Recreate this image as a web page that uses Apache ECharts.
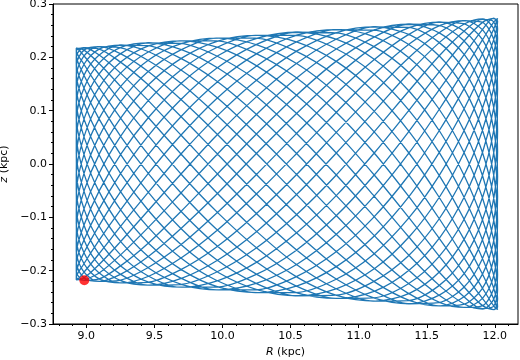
<!DOCTYPE html>
<html><head><meta charset="utf-8">
<script src="https://cdn.jsdelivr.net/npm/echarts@6/dist/echarts.min.js"></script>
<style>html,body{margin:0;padding:0;background:#fff}#c{width:520px;height:360px}</style>
</head><body><div id="c"></div>
<script>
// Orbit in the meridional plane: R (kpc), points in path order
const orbitR = [
8.985, 9.097, 9.257, 9.462, 9.703, 9.972, 10.258, 10.553, 10.844, 11.122, 11.376, 11.598, 11.779, 11.912, 11.994, 12.020, 11.990, 11.906, 11.769, 11.585, 11.362, 11.106, 10.827, 10.535, 10.240, 9.954, 9.687, 9.448, 9.246, 9.088, 8.980, 8.926, 8.928,
8.985, 9.097, 9.257, 9.462, 9.703, 9.972, 10.258, 10.553, 10.844, 11.122, 11.376, 11.598, 11.779, 11.912, 11.994, 12.020, 11.990, 11.906, 11.769, 11.585, 11.362, 11.106, 10.827, 10.535, 10.240, 9.954, 9.687, 9.448, 9.246, 9.088, 8.980, 8.926, 8.928,
8.985, 9.097, 9.257, 9.462, 9.703, 9.972, 10.258, 10.553, 10.844, 11.122, 11.376, 11.598, 11.779, 11.912, 11.994, 12.020, 11.990, 11.906, 11.769, 11.585, 11.362, 11.106, 10.827, 10.535, 10.240, 9.954, 9.687, 9.448, 9.246, 9.088, 8.980, 8.926, 8.928,
8.985, 9.097, 9.257, 9.462, 9.703, 9.972, 10.258, 10.553, 10.844, 11.122, 11.376, 11.598, 11.779, 11.912, 11.994, 12.020, 11.990, 11.906, 11.769, 11.585, 11.362, 11.106, 10.827, 10.535, 10.240, 9.954, 9.687, 9.448, 9.246, 9.088, 8.980, 8.926, 8.928,
8.985, 9.097, 9.257, 9.462, 9.703, 9.972, 10.258, 10.553, 10.844, 11.122, 11.376, 11.598, 11.779, 11.912, 11.994, 12.020, 11.990, 11.906, 11.769, 11.585, 11.362, 11.106, 10.827, 10.535, 10.240, 9.954, 9.687, 9.448, 9.246, 9.088, 8.980, 8.926, 8.928,
8.985, 9.097, 9.257, 9.462, 9.703, 9.972, 10.258, 10.553, 10.844, 11.122, 11.376, 11.598, 11.779, 11.912, 11.994, 12.020, 11.990, 11.906, 11.769, 11.585, 11.362, 11.106, 10.827, 10.535, 10.240, 9.954, 9.687, 9.448, 9.246, 9.088, 8.980, 8.926, 8.928,
8.985, 9.097, 9.257, 9.462, 9.703, 9.972, 10.258, 10.553, 10.844, 11.122, 11.376, 11.598, 11.779, 11.912, 11.994, 12.020, 11.990, 11.906, 11.769, 11.585, 11.362, 11.106, 10.827, 10.535, 10.240, 9.954, 9.687, 9.448, 9.246, 9.088, 8.980, 8.926, 8.928,
8.985, 9.097, 9.257, 9.462, 9.703, 9.972, 10.258, 10.553, 10.844, 11.122, 11.376, 11.598, 11.779, 11.912, 11.994, 12.020, 11.990, 11.906, 11.769, 11.585, 11.362, 11.106, 10.827, 10.535, 10.240, 9.954, 9.687, 9.448, 9.246, 9.088, 8.980, 8.926, 8.928,
8.985, 9.097, 9.257, 9.462, 9.703, 9.972, 10.258, 10.553, 10.844, 11.122, 11.376, 11.598, 11.779, 11.912, 11.994, 12.020, 11.990, 11.906, 11.769, 11.585, 11.362, 11.106, 10.827, 10.535, 10.240, 9.954, 9.687, 9.448, 9.246, 9.088, 8.980, 8.926, 8.928,
8.985, 9.097, 9.257, 9.462, 9.703, 9.972, 10.258, 10.553, 10.844, 11.122, 11.376, 11.598, 11.779, 11.912, 11.994, 12.020, 11.990, 11.906, 11.769, 11.585, 11.362, 11.106, 10.827, 10.535, 10.240, 9.954, 9.687, 9.448, 9.246, 9.088, 8.980, 8.926, 8.928,
8.985, 9.097, 9.257, 9.462, 9.703, 9.972, 10.258, 10.553, 10.844, 11.122, 11.376, 11.598, 11.779, 11.912, 11.994, 12.020, 11.990, 11.906, 11.769, 11.585, 11.362, 11.106, 10.827, 10.535, 10.240, 9.954, 9.687, 9.448, 9.246, 9.088, 8.980, 8.926, 8.928,
8.985, 9.097, 9.257, 9.462, 9.703, 9.972, 10.258, 10.553, 10.844, 11.122, 11.376, 11.598, 11.779, 11.912, 11.994, 12.020, 11.990, 11.906, 11.769, 11.585, 11.362, 11.106, 10.827, 10.535, 10.240, 9.954, 9.687, 9.448, 9.246, 9.088, 8.980, 8.926, 8.928,
8.985, 9.097, 9.257, 9.462, 9.703, 9.972, 10.258, 10.553, 10.844, 11.122, 11.376, 11.598, 11.779, 11.912, 11.994, 12.020, 11.990, 11.906, 11.769, 11.585, 11.362, 11.106, 10.827, 10.535, 10.240, 9.954, 9.687, 9.448, 9.246, 9.088, 8.980, 8.926, 8.928,
8.985, 9.097, 9.257, 9.462, 9.703, 9.972, 10.258, 10.553, 10.844, 11.122, 11.376, 11.598, 11.779, 11.912, 11.994, 12.020, 11.990, 11.906, 11.769, 11.585, 11.362, 11.106, 10.827, 10.535, 10.240, 9.954, 9.687, 9.448, 9.246, 9.088, 8.980, 8.926, 8.928,
8.985, 9.097, 9.257, 9.462, 9.703, 9.972, 10.258, 10.553, 10.844, 11.122, 11.376, 11.598, 11.779, 11.912, 11.994, 12.020, 11.990, 11.906, 11.769, 11.585, 11.362, 11.106, 10.827, 10.535, 10.240, 9.954, 9.687, 9.448, 9.246, 9.088, 8.980, 8.926, 8.928,
8.985, 9.097, 9.257, 9.462, 9.703, 9.972, 10.258, 10.553, 10.844, 11.122, 11.376, 11.598, 11.779, 11.912, 11.994, 12.020, 11.990, 11.906, 11.769, 11.585, 11.362, 11.106, 10.827, 10.535, 10.240, 9.954, 9.687, 9.448, 9.246, 9.088, 8.980, 8.926, 8.928,
8.985, 9.097, 9.257, 9.462, 9.703, 9.972, 10.258, 10.553, 10.844, 11.122, 11.376, 11.598, 11.779, 11.912, 11.994, 12.020, 11.990, 11.906, 11.769, 11.585, 11.362, 11.106, 10.827, 10.535, 10.240, 9.954, 9.687, 9.448, 9.246, 9.088, 8.980, 8.926, 8.928,
8.985, 9.097, 9.257, 9.462, 9.703, 9.972, 10.258, 10.553, 10.844, 11.122, 11.376, 11.598, 11.779, 11.912, 11.994, 12.020, 11.990, 11.906, 11.769, 11.585, 11.362, 11.106, 10.827, 10.535, 10.240, 9.954, 9.687, 9.448, 9.246, 9.088, 8.980, 8.926, 8.928,
8.985, 9.097, 9.257, 9.462, 9.703, 9.972, 10.258, 10.553, 10.844, 11.122, 11.376, 11.598, 11.779, 11.912, 11.994, 12.020, 11.990, 11.906, 11.769, 11.585, 11.362, 11.106, 10.827, 10.535, 10.240, 9.954, 9.687, 9.448, 9.246, 9.088, 8.980, 8.926, 8.928,
8.985, 9.097, 9.257, 9.462, 9.703, 9.972, 10.258, 10.553, 10.844, 11.122, 11.376, 11.598, 11.779, 11.912, 11.994, 12.020, 11.990, 11.906, 11.769, 11.585, 11.362, 11.106, 10.827, 10.535, 10.240, 9.954, 9.687, 9.448, 9.246, 9.088, 8.980, 8.926, 8.928,
8.985
];
// z (kpc), same order as orbitR
const orbitZ = [
-0.218, -0.204, -0.169, -0.117, -0.052, 0.021, 0.095, 0.163, 0.217, 0.252, 0.262, 0.245, 0.204, 0.140, 0.061, -0.024, -0.108, -0.179, -0.232, -0.260,
-0.262, -0.237, -0.191, -0.127, -0.054, 0.021, 0.091, 0.150, 0.192, 0.216, 0.218, 0.201, 0.164, 0.113, 0.049, -0.020, -0.089, -0.153, -0.204, -0.236,
-0.247, -0.233, -0.195, -0.135, -0.060, 0.024, 0.107, 0.180, 0.236, 0.267, 0.271, 0.248, 0.201, 0.135, 0.058, -0.023, -0.097, -0.159, -0.203, -0.226,
-0.227, -0.206, -0.167, -0.113, -0.049, 0.019, 0.086, 0.145, 0.192, 0.222, 0.231, 0.218, 0.183, 0.127, 0.057, -0.023, -0.103, -0.175, -0.232, -0.266,
-0.273, -0.253, -0.207, -0.140, -0.060, 0.024, 0.103, 0.170, 0.217, 0.241, 0.241, 0.218, 0.175, 0.117, 0.050, -0.020, -0.086, -0.143, -0.187, -0.214,
-0.220, -0.206, -0.172, -0.119, -0.053, 0.022, 0.097, 0.166, 0.222, 0.256, 0.266, 0.248, 0.205, 0.141, 0.061, -0.024, -0.107, -0.178, -0.229, -0.256,
-0.257, -0.233, -0.187, -0.124, -0.053, 0.021, 0.089, 0.147, 0.190, 0.214, 0.217, 0.201, 0.165, 0.114, 0.050, -0.020, -0.091, -0.156, -0.208, -0.242,
-0.252, -0.238, -0.198, -0.137, -0.060, 0.024, 0.108, 0.181, 0.235, 0.266, 0.269, 0.245, 0.198, 0.132, 0.057, -0.022, -0.095, -0.156, -0.199, -0.222,
-0.223, -0.203, -0.165, -0.112, -0.049, 0.020, 0.087, 0.147, 0.196, 0.226, 0.236, 0.223, 0.187, 0.130, 0.058, -0.023, -0.105, -0.178, -0.234, -0.267,
-0.273, -0.252, -0.205, -0.139, -0.060, 0.023, 0.101, 0.166, 0.212, 0.236, 0.236, 0.213, 0.172, 0.115, 0.049, -0.020, -0.086, -0.143, -0.188, -0.216,
-0.223, -0.210, -0.175, -0.122, -0.054, 0.022, 0.099, 0.170, 0.226, 0.260, 0.269, 0.251, 0.207, 0.141, 0.061, -0.024, -0.106, -0.175, -0.225, -0.251,
-0.252, -0.228, -0.182, -0.122, -0.052, 0.020, 0.088, 0.145, 0.188, 0.213, 0.217, 0.202, 0.167, 0.115, 0.051, -0.021, -0.093, -0.159, -0.213, -0.247,
-0.257, -0.242, -0.201, -0.139, -0.061, 0.024, 0.108, 0.180, 0.234, 0.263, 0.266, 0.242, 0.194, 0.130, 0.055, -0.022, -0.093, -0.153, -0.195, -0.218,
-0.220, -0.202, -0.164, -0.112, -0.049, 0.020, 0.088, 0.150, 0.199, 0.231, 0.241, 0.228, 0.191, 0.133, 0.059, -0.024, -0.106, -0.179, -0.235, -0.268,
-0.273, -0.251, -0.203, -0.137, -0.059, 0.023, 0.099, 0.163, 0.208, 0.231, 0.231, 0.209, 0.169, 0.114, 0.049, -0.019, -0.086, -0.144, -0.190, -0.219,
-0.227, -0.214, -0.179, -0.125, -0.055, 0.023, 0.101, 0.173, 0.229, 0.263, 0.272, 0.252, 0.207, 0.141, 0.061, -0.024, -0.105, -0.173, -0.221, -0.246,
-0.247, -0.223, -0.179, -0.119, -0.051, 0.020, 0.087, 0.144, 0.187, 0.213, 0.218, 0.204, 0.169, 0.117, 0.052, -0.021, -0.095, -0.163, -0.217, -0.252,
-0.262, -0.245, -0.204, -0.140, -0.061, 0.024, 0.108, 0.179, 0.232, 0.260,
0.262, 0.237, 0.191, 0.127, 0.054, -0.021, -0.091, -0.150, -0.192, -0.216, -0.218, -0.201, -0.164, -0.113, -0.049, 0.020, 0.089, 0.153, 0.204, 0.236,
0.247, 0.233, 0.195, 0.135, 0.060, -0.024, -0.107, -0.180, -0.236, -0.267, -0.271, -0.248, -0.201, -0.135, -0.058, 0.023, 0.097, 0.159, 0.203, 0.226,
0.227, 0.206, 0.167, 0.113, 0.049, -0.019, -0.086, -0.145, -0.192, -0.222, -0.231, -0.218, -0.183, -0.127, -0.057, 0.023, 0.103, 0.175, 0.232, 0.266,
0.273, 0.253, 0.207, 0.140, 0.060, -0.024, -0.103, -0.170, -0.217, -0.241, -0.241, -0.218, -0.175, -0.117, -0.050, 0.020, 0.086, 0.143, 0.187, 0.214,
0.220, 0.206, 0.172, 0.119, 0.053, -0.022, -0.097, -0.166, -0.222, -0.256, -0.266, -0.248, -0.205, -0.141, -0.061, 0.024, 0.107, 0.178, 0.229, 0.256,
0.257, 0.233, 0.187, 0.124, 0.053, -0.021, -0.089, -0.147, -0.190, -0.214, -0.217, -0.201, -0.165, -0.114, -0.050, 0.020, 0.091, 0.156, 0.208, 0.242,
0.252, 0.238, 0.198, 0.137, 0.060, -0.024, -0.108, -0.181, -0.235, -0.266, -0.269, -0.245, -0.198, -0.132, -0.057, 0.022, 0.095, 0.156, 0.199, 0.222,
0.223, 0.203, 0.165, 0.112, 0.049, -0.020, -0.087, -0.147, -0.196, -0.226, -0.236, -0.223, -0.187, -0.130, -0.058, 0.023, 0.105, 0.178, 0.234, 0.267,
0.273, 0.252, 0.205, 0.139, 0.060, -0.023, -0.101, -0.166, -0.212, -0.236, -0.236, -0.213, -0.172, -0.115, -0.049, 0.020, 0.086, 0.143, 0.188, 0.216,
0.223, 0.210, 0.175, 0.122, 0.054, -0.022, -0.099, -0.170, -0.226, -0.260, -0.269, -0.251, -0.207, -0.141, -0.061, 0.024, 0.106, 0.175, 0.225, 0.251,
0.252, 0.228, 0.182, 0.122, 0.052, -0.020, -0.088, -0.145, -0.188, -0.213, -0.217, -0.202, -0.167, -0.115, -0.051, 0.021, 0.093, 0.159, 0.213, 0.247,
0.257, 0.242, 0.201, 0.139, 0.061, -0.024, -0.108, -0.180, -0.234, -0.263, -0.266, -0.242, -0.194, -0.130, -0.055, 0.022, 0.093, 0.153, 0.195, 0.218,
0.220, 0.202, 0.164, 0.112, 0.049, -0.020, -0.088, -0.150, -0.199, -0.231, -0.241, -0.228, -0.191, -0.133, -0.059, 0.024, 0.106, 0.179, 0.235, 0.268,
0.273, 0.251, 0.203, 0.137, 0.059, -0.023, -0.099, -0.163, -0.208, -0.231, -0.231, -0.209, -0.169, -0.114, -0.049, 0.019, 0.086, 0.144, 0.190, 0.219,
0.227, 0.214, 0.179, 0.125, 0.055, -0.023, -0.101, -0.173, -0.229, -0.263, -0.272, -0.252, -0.207, -0.141, -0.061, 0.024, 0.105, 0.173, 0.221, 0.246,
0.247, 0.223, 0.179, 0.119, 0.051, -0.020, -0.087, -0.144, -0.187, -0.213,
-0.218
];
// starting position (red marker)
const startR = [8.985];
const startZ = [-0.218];
// tick values
const xTicks = [9.0, 9.5, 10.0, 10.5, 11.0, 11.5, 12.0];
const xMinorTicks = [8.8, 8.9, 9.1, 9.2, 9.3, 9.4, 9.6, 9.7, 9.8, 9.9, 10.1, 10.2, 10.3, 10.4, 10.6, 10.7, 10.8, 10.9, 11.1, 11.2, 11.3, 11.4, 11.6, 11.7, 11.8, 11.9, 12.1];
const yTicks = [-0.3, -0.2, -0.1, 0.0, 0.1, 0.2, 0.3];
const yMinorTicks = [-0.28, -0.26, -0.24, -0.22, -0.18, -0.16, -0.14, -0.12, -0.08, -0.06, -0.04, -0.02, 0.02, 0.04, 0.06, 0.08, 0.12, 0.14, 0.16, 0.18, 0.22, 0.24, 0.26, 0.28];

const FONT = 'DejaVu Sans';
const X_MIN = 8.755, X_MAX = 12.17, Y_MIN = -0.3, Y_MAX = 0.3;
const fmt = v => (v < -1e-9 ? '\u2212' : '') + Math.abs(v).toFixed(1);

const chart = echarts.init(document.getElementById('c'), null, {renderer: 'canvas'});
chart.setOption({
  animation: false,
  backgroundColor: '#fff',
  grid: {left: 53, right: 2, top: 4, bottom: 36, show: true, borderColor: '#000', borderWidth: 1,
         containLabel: false, outerBoundsMode: 'none'},
  xAxis: [{
    type: 'value', min: X_MIN, max: X_MAX,
    axisLine: {show: true, onZero: false, lineStyle: {color: '#000', width: 1}},
    axisTick: {show: true, inside: false, length: 4, customValues: xTicks, lineStyle: {color: '#000', width: 1}},
    axisLabel: {customValues: xTicks, formatter: fmt, color: '#000', fontSize: 11, fontFamily: FONT, margin: 7},
    splitLine: {show: false},
    name: '{i|R} (kpc)', nameLocation: 'middle', nameGap: 23,
    nameTextStyle: {color: '#000', fontSize: 11, fontFamily: FONT, rich: {i: {fontStyle: 'italic', fontSize: 11, fontFamily: FONT, color: '#000'}}}
  }, {
    type: 'value', min: X_MIN, max: X_MAX, position: 'bottom',
    axisLine: {show: false, onZero: false},
    axisTick: {show: true, inside: false, length: 2, customValues: xMinorTicks, lineStyle: {color: '#000', width: 1}},
    axisLabel: {show: false}, splitLine: {show: false}
  }],
  yAxis: [{
    type: 'value', min: Y_MIN, max: Y_MAX,
    axisLine: {show: true, onZero: false, lineStyle: {color: '#000', width: 1}},
    axisTick: {show: true, inside: false, length: 4, customValues: yTicks, lineStyle: {color: '#000', width: 1}},
    axisLabel: {customValues: yTicks, formatter: fmt, color: '#000', fontSize: 11, fontFamily: FONT, margin: 6},
    splitLine: {show: false},
    name: '{i|z} (kpc)', nameLocation: 'middle', nameGap: 39, nameRotate: 90,
    nameTextStyle: {color: '#000', fontSize: 11, fontFamily: FONT, rich: {i: {fontStyle: 'italic', fontSize: 11, fontFamily: FONT, color: '#000'}}}
  }, {
    type: 'value', min: Y_MIN, max: Y_MAX, position: 'left',
    axisLine: {show: false, onZero: false},
    axisTick: {show: true, inside: false, length: 2, customValues: yMinorTicks, lineStyle: {color: '#000', width: 1}},
    axisLabel: {show: false}, splitLine: {show: false}
  }],
  series: [{
    type: 'line', xAxisIndex: 0, yAxisIndex: 0,
    data: orbitR.map((r, i) => [r, orbitZ[i]]),
    showSymbol: false, symbol: 'none', smooth: 0.3,
    lineStyle: {color: '#1f77b4', width: 1.3},
    silent: true, z: 2
  }, {
    type: 'scatter', xAxisIndex: 0, yAxisIndex: 0,
    data: startR.map((r, i) => [r, startZ[i]]),
    symbol: 'circle', symbolSize: 10,
    itemStyle: {color: '#ff0000'},
    silent: true, z: 5
  }]
});
</script>
</body></html>
